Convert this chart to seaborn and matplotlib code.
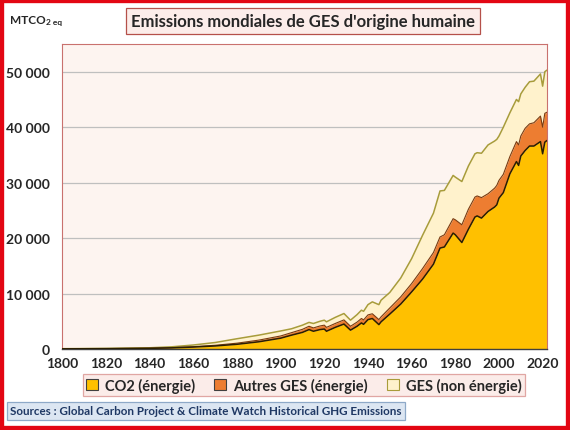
import matplotlib
matplotlib.use("Agg")
import matplotlib.pyplot as plt
from matplotlib.patches import Patch, Rectangle
import pandas as pd
import seaborn as sns

# emissions, MtCO2 eq
years = [1800, 1820, 1840, 1850, 1860, 1870, 1880, 1890, 1900, 1905,
         1910, 1913, 1915, 1918, 1920, 1921, 1925, 1929, 1932, 1935,
         1937, 1938, 1940, 1942, 1945, 1946, 1950, 1955, 1960, 1965,
         1970, 1973, 1975, 1979, 1980, 1983, 1986, 1989, 1990, 1992,
         1995, 1998, 1999, 2000, 2002, 2005, 2008, 2009, 2010, 2012,
         2014, 2016, 2019, 2020, 2021, 2022]
co2_energie = [30, 60, 120, 200, 350, 550, 850, 1300, 1950, 2500,
               3000, 3500, 3200, 3500, 3600, 3200, 3900, 4500, 3400, 4100,
               4700, 4450, 5300, 5500, 4400, 4900, 6300, 8100, 10300, 12600,
               15300, 18200, 18400, 20900, 20600, 19200, 21600, 23800, 24000, 23600,
               24800, 25600, 26000, 27200, 28200, 31600, 33800, 33100, 34800, 35800,
               36600, 36600, 37400, 35200, 37300, 37600]
autres_energie = [5, 10, 20, 40, 70, 120, 200, 300, 400, 450,
                  550, 600, 600, 650, 700, 700, 700, 750, 700, 750,
                  800, 800, 850, 850, 900, 900, 1100, 1300, 1500, 1900,
                  2100, 2000, 2200, 2600, 2700, 3200, 3600, 3600, 3600, 3700,
                  3200, 3400, 3500, 3200, 3300, 3100, 3600, 3700, 3600, 4000,
                  4000, 4200, 4600, 4800, 5200, 5100]
non_energie = [20, 40, 80, 150, 300, 500, 800, 900, 900, 700,
               750, 700, 800, 850, 900, 1000, 1100, 1150, 1100, 1350,
               1500, 1550, 1850, 2150, 2700, 3000, 2800, 3400, 4500, 6000,
               7100, 8300, 8000, 7800, 7700, 7800, 7800, 7800, 7800, 8000,
               8800, 8500, 8300, 8000, 8500, 7900, 7600, 7800, 7600, 7400,
               7600, 7500, 7600, 7400, 7500, 7600]

labels = ["CO2 (énergie)", "Autres GES (énergie)", "GES (non énergie)"]
y_ticks = [0, 10000, 20000, 30000, 40000, 50000]
y_labels = ["0", "10 000", "20 000", "30 000", "40 000", "50 000"]
x_ticks = list(range(1800, 2021, 20))

df = pd.DataFrame({"annee": years, "co2": co2_energie,
                   "autres": autres_energie, "non": non_energie})
df["haut_co2"] = df["co2"]
df["haut_autres"] = df["co2"] + df["autres"]
df["haut_total"] = df["haut_autres"] + df["non"]

sns.set_style("white")
plt.rcParams["font.family"] = ["Lato", "DejaVu Sans"]
plt.rcParams["font.weight"] = "bold"

fig = plt.figure(figsize=(5.7, 4.31), dpi=100)
ax = fig.add_axes([62.3 / 570, 1 - 350 / 431, (547 - 62.3) / 570, (350 - 45) / 431])
ax.set_facecolor("#FDF4F0")

ax.fill_between(df["annee"], df["haut_autres"], df["haut_total"], color="#FFF2CC", lw=0, zorder=2)
ax.fill_between(df["annee"], df["haut_co2"], df["haut_autres"], color="#ED7D31", lw=0, zorder=2)
ax.fill_between(df["annee"], 0, df["haut_co2"], color="#FFC000", lw=0, zorder=2)
sns.lineplot(data=df, x="annee", y="haut_total", color="#A89C3A", lw=1.1, ax=ax, zorder=3)
sns.lineplot(data=df, x="annee", y="haut_autres", color="#7A3A10", lw=0.8, ax=ax, zorder=3)
sns.lineplot(data=df, x="annee", y="haut_co2", color="#2B1F00", lw=1.1, ax=ax, zorder=3)

ax.set_xlim(1800, 2022)
ax.set_ylim(0, 55000)
ax.set_xticks(x_ticks)
ax.set_yticks(y_ticks)
ax.set_yticklabels(y_labels)
ax.set_xlabel("")
ax.set_ylabel("")
ax.grid(axis="y", color="#BFBFBF", lw=0.9)
ax.set_axisbelow(True)
for side in ["left", "top", "right"]:
    ax.spines[side].set_color("#C9716E")
    ax.spines[side].set_linewidth(0.8)
ax.spines["bottom"].set_color("#404040")
ax.spines["bottom"].set_linewidth(1.0)
ax.tick_params(axis="x", direction="inout", length=5, width=1, color="#404040",
               labelsize=10, pad=3)
ax.tick_params(axis="y", length=0, labelsize=10, pad=9)

# titre encadré
fig.text(303 / 570, 1 - 22 / 431, "Emissions mondiales de GES d'origine humaine",
         ha="center", va="center", fontsize=12, fontweight="bold",
         bbox=dict(boxstyle="square,pad=0.3", fc="#FCEDEA", ec="#B5504A", lw=0.9))

# unité
t = fig.text(10 / 570, 1 - 21 / 431, "MTCO", ha="left", va="center",
             fontsize=8.5, fontweight="bold")
ax.annotate("2 eq", xy=(1, 0.05), xycoords=t, ha="left", va="bottom",
            fontsize=6, fontweight="bold", annotation_clip=False)

# légende
handles = [Patch(fc="#FFC000", ec="#404040", lw=0.8),
           Patch(fc="#ED7D31", ec="#404040", lw=0.8),
           Patch(fc="#FFF2CC", ec="#A89C3A", lw=0.8)]
leg = fig.legend(handles, labels, loc="center", ncol=3,
                 bbox_to_anchor=(304 / 570, 1 - 386 / 431),
                 fontsize=10.5, frameon=True, fancybox=False,
                 handlelength=0.8, handleheight=0.8, handletextpad=0.5,
                 columnspacing=1.3, borderpad=0.25, borderaxespad=0)
leg.get_frame().set_facecolor("#FBE8E4")
leg.get_frame().set_edgecolor("#D9938F")
leg.get_frame().set_linewidth(0.9)

# sources
fig.text(10 / 570, 1 - 412 / 431,
         "Sources : Global Carbon Project & Climate Watch Historical GHG Emissions",
         ha="left", va="center", fontsize=8.4, fontweight="bold", color="#1F3864",
         bbox=dict(boxstyle="square,pad=0.3", fc="#DCE6F2", ec="#8EA9C8", lw=0.9))

# cadre rouge
fig.patches.append(Rectangle((0, 0), 1, 1, transform=fig.transFigure, fill=False,
                             ec="#E30613", lw=6, zorder=10))

fig.savefig("out.png", dpi=100)
